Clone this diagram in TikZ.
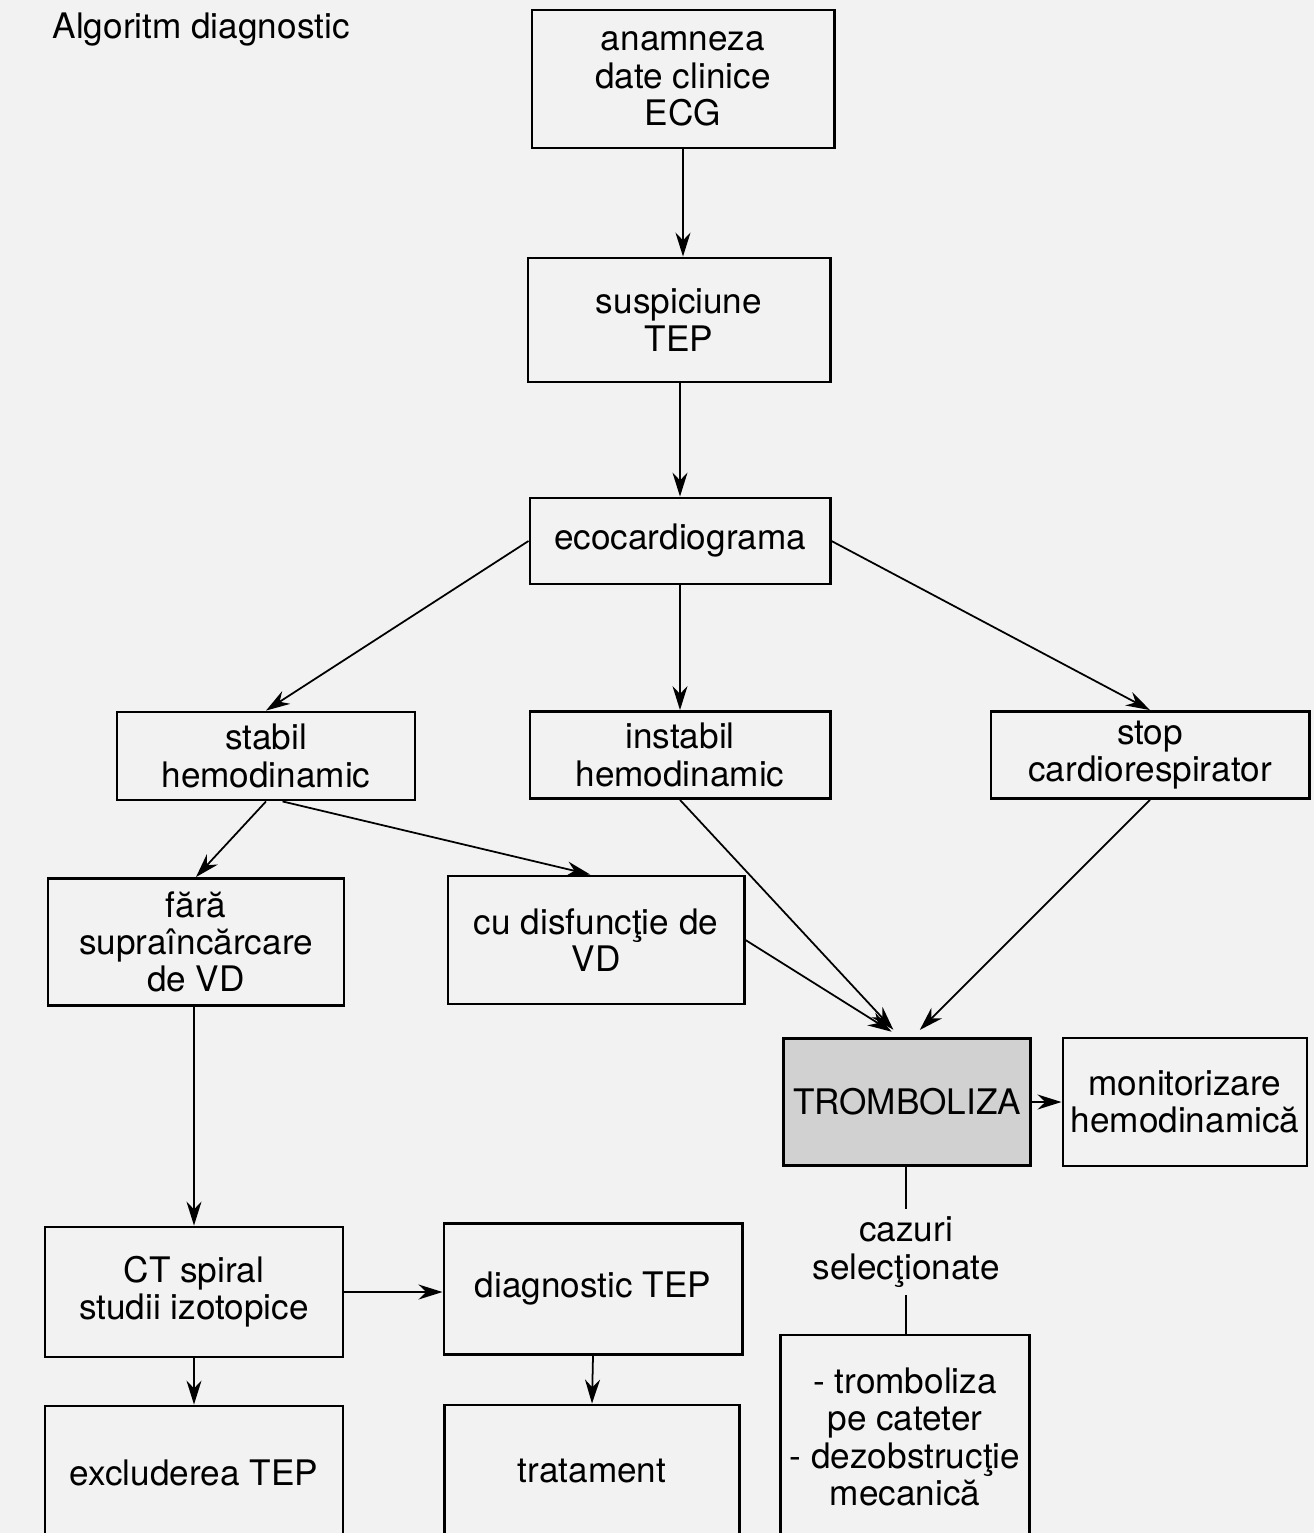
\documentclass[tikz,border=0pt]{standalone}
\usepackage{fontspec}
\setmainfont{TeX Gyre Heros}
\usetikzlibrary{arrows.meta}
\tikzstyle{box} = [draw, line width=0.8pt, align=center, inner sep=0pt]
\tikzstyle{arr} = [-{Stealth[length=2.4mm,width=1.5mm]}, line width=0.5pt]
\tikzstyle{link} = [line width=0.8pt]

\begin{document}
\begin{tikzpicture}[x=0.01cm, y=-0.01cm, font=\fontsize{10}{10.6}\selectfont]
\useasboundingbox (0,0) rectangle (1314,1533);
\clip (0,0) rectangle (1314,1533);
\fill[black!5] (0,0) rectangle (1314,1533);

\node[anchor=west, inner sep=0pt] (title) at (52,30) {Algoritm diagnostic};

\node[box, minimum width=30.2mm, minimum height=13.8mm] (anam) at (683,79) {anamneza\\date clinice\\ECG};
\node[box, minimum width=30.2mm, minimum height=12.4mm] (susp) at (679,320) {suspiciune\\TEP};
\node[box, minimum width=30mm, minimum height=8.6mm] (eco) at (680,541) {ecocardiograma};

\node[box, minimum width=29.8mm, minimum height=8.8mm] (stabil) at (266,756) {stabil\\hemodinamic};
\node[box, minimum width=30mm, minimum height=8.7mm] (instab) at (680,755) {instabil\\hemodinamic};
\node[box, minimum width=31.8mm, minimum height=8.7mm] (stop) at (1150,755) {stop\\cardiorespirator};

\node[box, minimum width=29.6mm, minimum height=12.7mm] (fara) at (196,942) {fără\\supraîncărcare\\de VD};
\node[box, minimum width=29.6mm, minimum height=12.8mm] (dis) at (596,940) {cu disfuncţie de\\VD};

\node[box, fill=black!18, minimum width=24.7mm, minimum height=12.7mm] (tromb) at (907,1102) {TROMBOLIZA};
\node[box, minimum width=24.4mm, minimum height=12.8mm] (monit) at (1185,1102) {monitorizare\\hemodinamică};

\node[inner sep=2pt, align=center] (caz) at (906,1252) {cazuri\\selecţionate};
\node[box, minimum width=24.9mm, minimum height=20.4mm] (cath) at (905,1437) {- tromboliza\\pe cateter\\- dezobstrucţie\\mecanică};

\node[box, minimum width=29.8mm, minimum height=13mm] (ct) at (194,1292) {CT spiral\\studii izotopice};
\node[box, minimum width=29.8mm, minimum height=13.1mm] (diag) at (593,1289) {diagnostic TEP};
\node[box, minimum width=29.8mm, minimum height=13.4mm] (excl) at (194,1473) {excluderea TEP};
\node[box, minimum width=29.5mm, minimum height=13.2mm] (trat) at (592,1471) {tratament};

\draw[arr] (anam.south) -- (anam.south |- susp.north);
\draw[arr] (eco.north |- susp.south) -- (eco.north);
\draw[arr] (eco.west) -- (stabil.north);
\draw[arr] (eco.south) -- (instab.north);
\draw[arr] (eco.east) -- (stop.north);

\draw[arr] (stabil.south) -- (fara.north);
\draw[arr] (stabil.-70) -- (dis.95);

\draw[arr, shorten >=1mm] (instab.south) -- (tromb.96);
\draw[arr, shorten >=1mm] (dis.east) -- (tromb.96);
\draw[arr, shorten >=1mm] (stop.south) -- (tromb.85);
\draw[arr] (tromb.east) -- (monit.west);

\draw[link] (caz.north |- tromb.south) -- (caz.north);
\draw[link] (caz.south) -- (caz.south |- cath.north);

\draw[arr] (ct.north |- fara.south) -- (ct.north);
\draw[arr] (ct.east) -- (ct.east -| diag.west);
\draw[arr] (ct.south) -- (excl.north);
\draw[arr] (diag.south) -- (trat.north);

\end{tikzpicture}
\end{document}
